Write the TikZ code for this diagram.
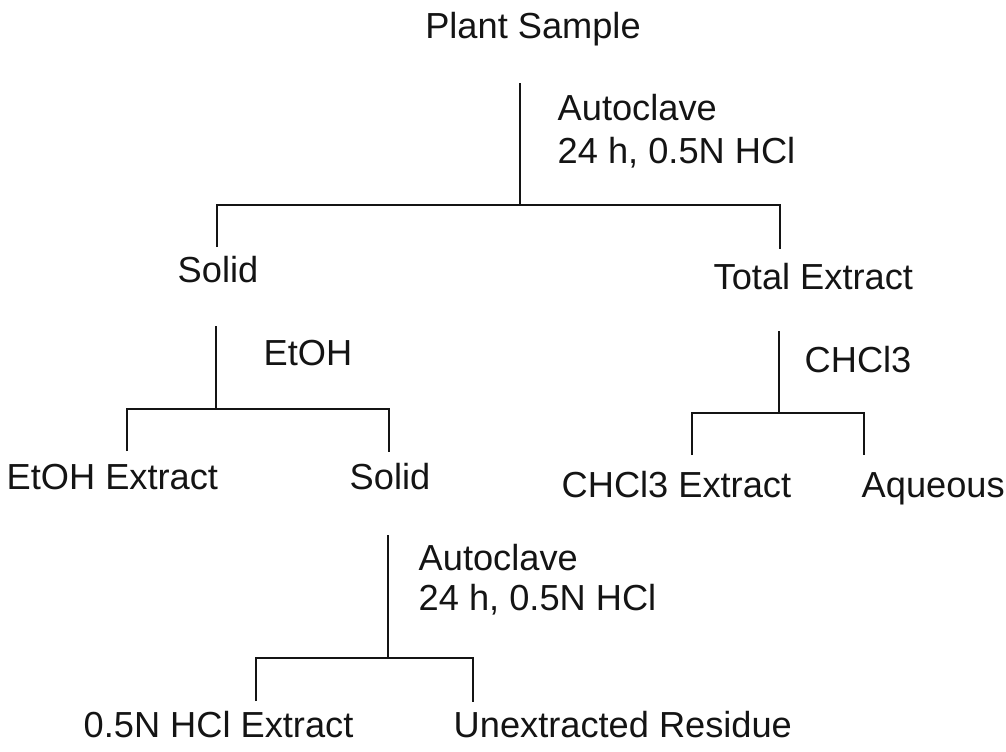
\documentclass[tikz,border=0pt]{standalone}
\usepackage{fontspec}
\setmainfont{Liberation Sans}
\usepackage{xcolor}
\usepackage{tikz}
\definecolor{scanInk}{RGB}{20,20,20}
\tikzset{
  stepText/.style={text=scanInk, font=\fontsize{10.3}{12}\selectfont, inner sep=0pt, anchor=base west},
  treeLine/.style={draw=scanInk, line width=0.75pt},
}

\begin{document}
\begin{tikzpicture}[x=0.01cm,y=-0.01cm]
    \useasboundingbox (0,0) rectangle (1006,751);

    \node[stepText, anchor=base] (plant) at (533,38) {Plant Sample};
    \node[stepText] (autoTop) at (557,120) {Autoclave};
    \node[stepText] (hclTop) at (557,163) {24 h, 0.5N HCl};
    \node[stepText, anchor=base] (solidA) at (218,282) {Solid};
    \node[stepText] (total) at (713,289) {Total Extract};

    \coordinate (plantTop) at (520,83);
    \coordinate (plantSplit) at (520,205);
    \coordinate (solidATick) at (217,247);
    \coordinate (totalTick) at (780,249);
    \draw[treeLine] (plantTop) -- (plantSplit);
    \draw[treeLine] (solidATick) |- (plantSplit) -| (totalTick);

    \node[stepText] (etoh) at (263,365) {EtOH};
    \node[stepText] (etohExt) at (6,489) {EtOH Extract};
    \node[stepText, anchor=base] (solidB) at (390,489) {Solid};

    \coordinate (solidATop) at (216,326);
    \coordinate (solidASplit) at (216,409);
    \coordinate (etohTick) at (127,451);
    \coordinate (solidBTick) at (389,452);
    \draw[treeLine] (solidATop) -- (solidASplit);
    \draw[treeLine] (etohTick) |- (solidASplit) -| (solidBTick);

    \node[stepText] (chcl) at (804,372) {CHCl3};
    \node[stepText] (chclExt) at (561,497) {CHCl3 Extract};
    \node[stepText] (aqueous) at (861,497) {Aqueous};

    \coordinate (totalTop) at (779,331);
    \coordinate (totalSplit) at (779,413);
    \coordinate (chclTick) at (692,455);
    \coordinate (aqueousTick) at (864,455);
    \draw[treeLine] (totalTop) -- (totalSplit);
    \draw[treeLine] (chclTick) |- (totalSplit) -| (aqueousTick);

    \node[stepText] (autoLow) at (418,570) {Autoclave};
    \node[stepText] (hclLow) at (418,610) {24 h, 0.5N HCl};
    \node[stepText] (hclExt) at (83,737) {0.5N HCl Extract};
    \node[stepText] (residue) at (453,737) {Unextracted Residue};

    \coordinate (solidBTop) at (388,535);
    \coordinate (solidBSplit) at (388,658);
    \coordinate (hclExtTick) at (256,701);
    \coordinate (residueTick) at (473,702);
    \draw[treeLine] (solidBTop) -- (solidBSplit);
    \draw[treeLine] (hclExtTick) |- (solidBSplit) -| (residueTick);
\end{tikzpicture}
\end{document}
